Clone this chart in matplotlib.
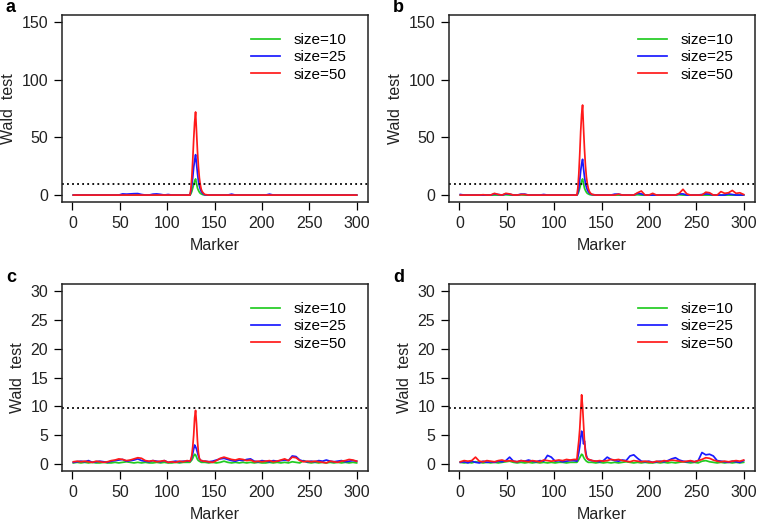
import matplotlib
matplotlib.use('Agg')
import matplotlib.pyplot as plt

plt.rcParams['font.family'] = ['Liberation Sans', 'DejaVu Sans']

# marker positions sampled (denser around the QTL peak)
marker = list(range(1, 122, 4)) + list(range(124, 141)) + list(range(144, 301, 4))
threshold = 9.8
sizes = ['size=10', 'size=25', 'size=50']
colors = ['#22cc22', '#1a1aff', '#ff1a1a']

# ---- panel a ----
green_a = [0, 0, 0, 0, 0, 0, 0, 0, 0, 0, 0, 0, 0, 0.3, 0.2, 0, 0, 0.3, 0, 0, 0, 0, 0, 0.2, 0, 0, 0, 0, 0, 0, 0,
           0, 1, 3, 6, 9, 12, 14, 10, 6, 4, 2.5, 1.5, 1, 0.6, 0.3, 0.2, 0.1,
           0, 0, 0, 0, 0, 0, 0, 0, 0, 0, 0, 0, 0, 0, 0, 0, 0, 0, 0, 0,
           0, 0, 0, 0, 0, 0, 0, 0, 0, 0, 0, 0, 0, 0, 0, 0, 0, 0, 0, 0]
blue_a = [0, 0, 0, 0, 0, 0, 0, 0, 0, 0, 0, 0, 0, 1, 0.8, 1, 1.2, 1.3, 0.5, 0, 0, 0.8, 1, 0.6, 0, 0.5, 0, 0, 0, 0, 0,
          0, 3, 8, 15, 24, 30, 35, 27, 19, 12, 8, 5, 3, 2, 1, 0.5, 0.2,
          0, 0, 0, 0, 0, 0, 0.8, 0, 0, 0, 0, 0, 0, 0, 0, 0, 0.8, 0, 0, 0,
          0, 0, 0, 0, 0, 0, 0, 0, 0, 0, 0, 0, 0, 0, 0, 0, 0, 0, 0, 0]
red_a = [0, 0, 0, 0, 0, 0, 0, 0, 0, 0, 0, 0, 0, 0, 0, 0, 0, 0, 0, 0, 0, 0, 0, 0, 0, 0, 0, 0, 0, 0, 0,
         0, 5, 15, 30, 48, 63, 72, 55, 38, 25, 15, 9, 5, 3, 2, 1, 0.5,
         0, 0, 0, 0, 0, 0, 0, 0, 0, 0, 0, 0, 0, 0, 0, 0, 0, 0, 0, 0,
         0, 0, 0, 0, 0, 0, 0, 0, 0, 0, 0, 0, 0, 0, 0, 0, 0, 0, 0, 0]

# ---- panel b ----
green_b = [0, 0, 0, 0, 0, 0, 0, 0, 0, 0, 0, 0, 0.3, 0, 0, 0, 0.2, 0, 0, 0, 0, 0, 0, 0, 0, 0, 0, 0, 0, 0, 0,
           0, 1, 3, 6, 9, 12, 14, 10, 6, 4, 2.5, 1.5, 1, 0.6, 0.3, 0.2, 0.1,
           0, 0, 0, 0, 0, 0, 0, 0, 0, 0, 0, 0.3, 0, 0, 0, 0, 0, 0, 0, 0,
           0, 0, 0.3, 0, 0, 0, 0, 0, 0, 0, 0, 0, 0, 0, 0, 0, 0, 0, 0, 0]
blue_b = [0.5, 0, 0, 0, 0, 0, 0, 0, 0, 1, 0.5, 0, 1, 0.8, 0, 0, 0.8, 0.8, 0, 0, 0, 0, 0.5, 0, 0, 0, 0, 0, 0, 0, 0,
          0, 2, 6, 13, 21, 27, 31, 23, 16, 10, 7, 4.5, 3, 2, 1.2, 0.8, 0.5,
          0, 0, 0, 0, 0, 0.8, 0.8, 0, 0, 0, 0, 1.5, 1, 0, 0, 0, 0, 0, 0, 0,
          0, 0, 1, 1, 0, 0, 0, 0, 0.5, 1, 0.8, 0, 0, 0, 0, 1, 0.5, 0, 0, 0]
red_b = [0, 0, 0, 0, 0, 0, 0.3, 0, 0, 1.5, 0.5, 0, 1.5, 1, 0, 0, 0.5, 0.5, 0, 0, 0, 0, 0, 0, 0, 0, 0, 0, 0, 0, 0,
         0, 6, 18, 35, 55, 70, 78, 58, 40, 26, 16, 10, 6, 3.5, 2, 1.2, 0.6,
         0, 0, 0, 0, 0, 0, 0.8, 0, 0, 0, 0, 2, 3.5, 0, 0, 1.5, 0, 0, 0, 0,
         0, 0, 1.5, 5, 1, 0, 0, 0, 0, 2.5, 2, 0, 0, 3, 1.5, 2, 4, 1.5, 2, 0.5]

# ---- panel c ----
green_c = [0.2, 0.3, 0.2, 0.3, 0.2, 0.3, 0.2, 0.2, 0.3, 0.2, 0.2, 0.3, 0.2, 0.3, 0.4, 0.3, 0.2, 0.3, 0.2, 0.3, 0.2, 0.2, 0.3, 0.2, 0.3, 0.2, 0.2, 0.3, 0.2, 0.3, 0.3,
           0.3, 0.5, 0.7, 1.0, 1.4, 1.7, 1.6, 1.2, 0.8, 0.6, 0.5, 0.4, 0.3, 0.3, 0.3, 0.3, 0.3,
           0.2, 0.3, 0.2, 0.3, 0.5, 0.3, 0.2, 0.3, 0.2, 0.3, 0.2, 0.3, 0.2, 0.3, 0.2, 0.2, 0.3, 0.2, 0.3, 0.2,
           0.3, 0.2, 0.4, 0.3, 0.2, 0.6, 0.3, 0.2, 0.3, 0.2, 0.3, 0.2, 0.3, 0.2, 0.3, 0.2, 0.3, 0.2, 0.3, 0.2]
blue_c = [0.3, 0.4, 0.5, 0.4, 0.6, 0.3, 0.4, 0.5, 0.4, 0.3, 0.5, 0.6, 0.7, 0.8, 0.5, 0.6, 0.7, 0.9, 0.6, 0.5, 0.4, 0.6, 0.5, 0.4, 0.6, 0.3, 0.4, 0.5, 0.4, 0.5, 0.5,
          0.5, 0.7, 1.2, 1.8, 2.6, 3.3, 3.0, 2.6, 2.0, 1.4, 0.9, 0.7, 0.6, 0.5, 0.5, 0.5, 0.5,
          0.4, 0.5, 0.7, 0.9, 1.0, 0.8, 0.6, 0.5, 0.7, 0.6, 0.8, 0.9, 0.5, 0.4, 0.6, 0.5, 0.4, 0.6, 0.5, 0.6,
          0.7, 0.6, 1.4, 1.3, 0.7, 0.5, 0.4, 0.5, 0.4, 0.6, 0.5, 0.7, 0.5, 0.4, 0.5, 0.6, 0.4, 0.5, 0.6, 0.5]
red_c = [0.4, 0.5, 0.4, 0.5, 0.4, 0.3, 0.5, 0.4, 0.3, 0.4, 0.6, 0.7, 0.9, 0.8, 0.6, 0.7, 0.9, 1.1, 1.0, 0.6, 0.5, 0.6, 0.4, 0.5, 0.6, 0.3, 0.4, 0.3, 0.5, 0.4, 0.6,
         0.5, 0.8, 1.5, 3.0, 5.0, 8.0, 9.3, 7.0, 4.0, 2.0, 1.0, 0.7, 0.6, 0.6, 0.5, 0.5, 0.5,
         0.4, 0.3, 0.6, 1.0, 1.2, 1.0, 0.8, 0.7, 0.9, 0.8, 0.6, 0.7, 0.4, 0.5, 0.4, 0.5, 0.6, 0.4, 0.5, 0.7,
         0.9, 0.6, 1.2, 1.1, 0.6, 0.4, 0.5, 0.4, 0.5, 0.4, 0.3, 0.2, 0.5, 0.4, 0.3, 0.5, 0.6, 0.8, 0.7, 0.5]

# ---- panel d ----
green_d = [0.3, 0.2, 0.3, 0.2, 0.4, 0.3, 0.2, 0.3, 0.2, 0.3, 0.2, 0.3, 0.4, 0.5, 0.3, 0.2, 0.3, 0.2, 0.3, 0.2, 0.3, 0.2, 0.3, 0.2, 0.3, 0.2, 0.3, 0.3, 0.2, 0.3, 0.3,
           0.3, 0.5, 0.8, 1.1, 1.4, 1.7, 1.6, 1.2, 0.9, 0.7, 0.5, 0.4, 0.3, 0.3, 0.3, 0.3, 0.3,
           0.2, 0.3, 0.2, 0.3, 0.2, 0.3, 0.2, 0.3, 0.4, 0.3, 0.2, 0.3, 0.2, 0.3, 0.2, 0.2, 0.3, 0.2, 0.3, 0.2,
           0.3, 0.2, 0.3, 0.4, 0.3, 0.2, 0.3, 0.2, 0.5, 0.6, 0.4, 0.3, 0.2, 0.3, 0.2, 0.3, 0.2, 0.3, 0.2, 0.3]
blue_d = [0.3, 0.4, 0.2, 0.5, 0.3, 0.2, 0.5, 0.3, 0.4, 0.3, 0.5, 0.4, 0.6, 1.2, 0.5, 0.4, 0.6, 0.5, 0.7, 0.5, 0.4, 0.6, 0.5, 1.5, 1.2, 0.5, 0.6, 0.4, 0.5, 0.6, 0.6,
          0.5, 1.2, 2.0, 3.0, 4.5, 5.7, 5.0, 3.5, 4.0, 2.5, 1.5, 1.0, 0.8, 0.7, 0.7, 0.6, 0.6,
          0.5, 0.4, 0.6, 1.2, 0.8, 0.6, 0.5, 0.7, 0.6, 1.4, 1.6, 1.0, 0.5, 0.4, 0.5, 0.3, 0.4, 0.5, 0.4, 0.6,
          0.9, 1.1, 0.7, 0.5, 0.4, 0.5, 0.4, 0.6, 2.0, 1.6, 1.7, 1.4, 0.6, 0.5, 0.4, 0.3, 0.5, 0.4, 0.3, 0.6]
red_d = [0.4, 0.6, 0.5, 0.6, 1.2, 0.5, 0.4, 0.6, 0.5, 0.4, 0.6, 0.7, 0.5, 0.6, 0.5, 0.4, 0.6, 0.5, 0.4, 0.6, 0.5, 0.4, 0.7, 0.6, 0.5, 0.6, 0.7, 0.6, 0.8, 0.7, 0.8,
         0.8, 2.5, 4.0, 6.0, 9.0, 12.0, 10.0, 7.0, 4.0, 2.0, 1.2, 1.0, 0.8, 0.8, 0.7, 0.7, 0.6,
         0.5, 0.6, 0.5, 0.6, 0.8, 0.7, 0.8, 0.6, 0.5, 0.4, 0.6, 0.5, 0.4, 0.5, 0.4, 0.3, 0.5, 0.4, 0.6, 0.5,
         0.7, 0.6, 0.5, 0.4, 0.5, 0.6, 0.4, 0.6, 0.8, 1.1, 1.0, 0.7, 0.5, 0.4, 0.5, 0.4, 0.5, 0.6, 0.5, 0.7]

panels = [
    ('a', [green_a, blue_a, red_a], 150, [0, 50, 100, 150], [62, 15]),
    ('b', [green_b, blue_b, red_b], 150, [0, 50, 100, 150], [449, 15]),
    ('c', [green_c, blue_c, red_c], 30, [0, 5, 10, 15, 20, 25, 30], [62, 284]),
    ('d', [green_d, blue_d, red_d], 30, [0, 5, 10, 15, 20, 25, 30], [449, 284]),
]

W, H = 758, 523
fig = plt.figure(figsize=(W / 100, H / 100), dpi=100)

for letter, series, ymax, yticks, (px, py) in panels:
    ax = fig.add_axes([px / W, 1 - (py + 187) / H, 306 / W, 187 / H])
    for vals, col, lab in zip(series, colors, sizes):
        ax.plot(marker, vals, color=col, lw=1.25, label=lab)
    ax.axhline(threshold, color='black', ls=(0, (1, 1.8)), lw=1.3)
    ax.set_xlim(-10.96, 311.96)
    ax.set_ylim(-0.04 * ymax, 1.04 * ymax)
    ax.set_xticks([0, 50, 100, 150, 200, 250, 300])
    ax.set_yticks(yticks)
    ax.tick_params(direction='out', length=6, width=0.9, labelsize=11.5, pad=4,
                   labelcolor='#222222')
    for s in ax.spines.values():
        s.set_linewidth(1.1)
        s.set_color('#222222')
    ax.set_xlabel('Marker', fontsize=11.5, labelpad=5, color='#222222')
    ax.set_ylabel('Wald  test', fontsize=11.5, labelpad=4, color='#222222')
    ax.legend(loc='upper right', bbox_to_anchor=(0.975, 0.975), frameon=False,
              fontsize=11, handlelength=1.9, handletextpad=0.9, labelspacing=0.2)
    fig.text((px - 56) / W, 1 - (py - 7) / H, letter, fontsize=13, fontweight='bold',
             ha='left', va='center')

fig.savefig('out.png', dpi=100)
